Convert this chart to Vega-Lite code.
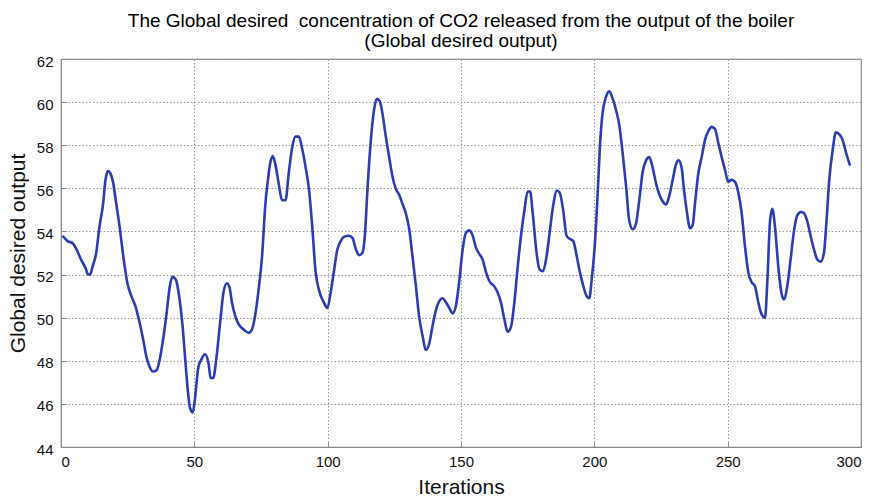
{
  "$schema": "https://vega.github.io/schema/vega-lite/v6.json",
  "autosize": "none",
  "width": 800,
  "height": 388,
  "padding": {"left": 61, "top": 59, "right": 19, "bottom": 56},
  "background": "white",
  "title": {
    "text": ["The Global desired \u00a0concentration of CO2 released from the output of the boiler", "(Global desired output)"],
    "font": "Liberation Sans",
    "fontSize": 19,
    "fontWeight": "normal",
    "color": "black",
    "anchor": "middle",
    "lineHeight": 20,
    "offset": 3
  },
  "config": {
    "view": {"stroke": "#888888", "strokeWidth": 1.2},
    "axis": {
      "labelFont": "Liberation Sans",
      "titleFont": "Liberation Sans",
      "labelFontSize": 15,
      "titleFontSize": 21,
      "titleFontWeight": "normal",
      "labelColor": "#111111",
      "titleColor": "#111111",
      "gridColor": "#9a9a9a",
      "gridDash": [1.5, 2],
      "gridWidth": 1,
      "gridOpacity": 1,
      "domainColor": "#888888",
      "tickColor": "#888888",
      "tickSize": -5
    }
  },
  "data": {
    "values": [
      {"it": 0.6, "v": 53.8}, {"it": 2.5, "v": 53.55}, {"it": 4.4, "v": 53.45}, {"it": 5.7, "v": 53.2},
      {"it": 7.5, "v": 52.7}, {"it": 9.2, "v": 52.3}, {"it": 10.2, "v": 52.0}, {"it": 10.9, "v": 52.0},
      {"it": 11.9, "v": 52.4}, {"it": 13.2, "v": 53.0}, {"it": 14.4, "v": 54.2}, {"it": 15.7, "v": 55.2},
      {"it": 16.7, "v": 56.4}, {"it": 17.6, "v": 56.8}, {"it": 18.5, "v": 56.7}, {"it": 19.5, "v": 56.3},
      {"it": 20.7, "v": 55.3}, {"it": 22.0, "v": 54.2}, {"it": 23.2, "v": 53.0}, {"it": 24.9, "v": 51.6},
      {"it": 26.4, "v": 51.0}, {"it": 28.0, "v": 50.5}, {"it": 29.5, "v": 49.75}, {"it": 30.8, "v": 49.0},
      {"it": 32.0, "v": 48.2}, {"it": 33.3, "v": 47.7}, {"it": 34.5, "v": 47.5}, {"it": 35.8, "v": 47.55},
      {"it": 37.0, "v": 48.05}, {"it": 38.3, "v": 49.0}, {"it": 39.6, "v": 50.2}, {"it": 40.8, "v": 51.45},
      {"it": 41.8, "v": 51.9}, {"it": 43.1, "v": 51.75}, {"it": 44.3, "v": 51.0}, {"it": 45.6, "v": 49.6},
      {"it": 46.6, "v": 48.05}, {"it": 47.5, "v": 46.7}, {"it": 48.4, "v": 45.8}, {"it": 49.4, "v": 45.6},
      {"it": 50.2, "v": 46.2}, {"it": 51.5, "v": 47.7}, {"it": 52.8, "v": 48.1}, {"it": 54.0, "v": 48.3},
      {"it": 55.3, "v": 47.9}, {"it": 56.1, "v": 47.2}, {"it": 57.1, "v": 47.2}, {"it": 58.2, "v": 48.05},
      {"it": 59.7, "v": 49.8}, {"it": 60.9, "v": 51.15}, {"it": 62.2, "v": 51.6}, {"it": 63.2, "v": 51.4},
      {"it": 64.1, "v": 50.7}, {"it": 65.3, "v": 50.1}, {"it": 66.6, "v": 49.7}, {"it": 68.5, "v": 49.45},
      {"it": 70.3, "v": 49.3}, {"it": 71.6, "v": 49.45}, {"it": 72.8, "v": 50.1}, {"it": 74.1, "v": 51.3},
      {"it": 75.4, "v": 52.85}, {"it": 76.6, "v": 55.2}, {"it": 77.6, "v": 56.4}, {"it": 78.5, "v": 57.2},
      {"it": 79.4, "v": 57.5}, {"it": 80.4, "v": 57.1}, {"it": 81.6, "v": 56.25}, {"it": 82.9, "v": 55.45},
      {"it": 84.2, "v": 55.45}, {"it": 85.4, "v": 56.7}, {"it": 86.7, "v": 57.9}, {"it": 87.9, "v": 58.4},
      {"it": 89.2, "v": 58.4}, {"it": 90.5, "v": 57.8}, {"it": 91.7, "v": 57.0}, {"it": 93.0, "v": 55.95},
      {"it": 94.2, "v": 54.25}, {"it": 95.5, "v": 52.1}, {"it": 96.7, "v": 51.3}, {"it": 98.6, "v": 50.7},
      {"it": 99.9, "v": 50.45}, {"it": 101.1, "v": 51.15}, {"it": 102.4, "v": 52.2}, {"it": 103.6, "v": 53.15},
      {"it": 104.9, "v": 53.55}, {"it": 106.1, "v": 53.75}, {"it": 108.0, "v": 53.8}, {"it": 109.3, "v": 53.7},
      {"it": 110.5, "v": 53.2}, {"it": 111.8, "v": 52.9}, {"it": 113.0, "v": 53.0}, {"it": 114.0, "v": 53.9},
      {"it": 114.9, "v": 55.9}, {"it": 116.2, "v": 58.25}, {"it": 117.4, "v": 59.65}, {"it": 118.4, "v": 60.15},
      {"it": 119.5, "v": 60.05}, {"it": 120.5, "v": 59.5}, {"it": 121.8, "v": 58.4}, {"it": 123.0, "v": 57.5},
      {"it": 124.3, "v": 56.55}, {"it": 125.5, "v": 56.0}, {"it": 126.8, "v": 55.7}, {"it": 128.0, "v": 55.3},
      {"it": 129.3, "v": 54.85}, {"it": 130.6, "v": 54.1}, {"it": 131.8, "v": 52.85}, {"it": 133.1, "v": 51.45},
      {"it": 134.3, "v": 50.05}, {"it": 135.6, "v": 49.15}, {"it": 136.8, "v": 48.5}, {"it": 138.1, "v": 48.8},
      {"it": 139.3, "v": 49.6}, {"it": 140.6, "v": 50.35}, {"it": 141.8, "v": 50.75}, {"it": 143.1, "v": 50.9},
      {"it": 144.4, "v": 50.7}, {"it": 145.6, "v": 50.45}, {"it": 146.9, "v": 50.2}, {"it": 148.1, "v": 50.55},
      {"it": 149.4, "v": 51.75}, {"it": 150.6, "v": 53.15}, {"it": 151.9, "v": 53.95}, {"it": 153.1, "v": 54.05},
      {"it": 154.4, "v": 53.8}, {"it": 155.6, "v": 53.25}, {"it": 156.9, "v": 52.95}, {"it": 158.1, "v": 52.7},
      {"it": 159.4, "v": 52.1}, {"it": 160.6, "v": 51.7}, {"it": 162.5, "v": 51.45}, {"it": 163.8, "v": 51.15},
      {"it": 165.0, "v": 50.7}, {"it": 166.3, "v": 49.9}, {"it": 167.5, "v": 49.35}, {"it": 168.8, "v": 49.6},
      {"it": 170.0, "v": 50.7}, {"it": 171.3, "v": 52.4}, {"it": 172.5, "v": 53.8}, {"it": 173.8, "v": 55.0},
      {"it": 175.0, "v": 55.85}, {"it": 175.9, "v": 55.85}, {"it": 176.9, "v": 54.85}, {"it": 178.2, "v": 53.15},
      {"it": 179.4, "v": 52.25}, {"it": 180.7, "v": 52.15}, {"it": 181.9, "v": 52.7}, {"it": 183.2, "v": 53.9},
      {"it": 184.5, "v": 55.15}, {"it": 186.0, "v": 55.9}, {"it": 187.0, "v": 55.8}, {"it": 188.3, "v": 55.0},
      {"it": 189.6, "v": 53.8}, {"it": 190.9, "v": 53.65}, {"it": 192.1, "v": 53.55}, {"it": 193.4, "v": 52.85},
      {"it": 194.6, "v": 52.1}, {"it": 195.9, "v": 51.45}, {"it": 197.1, "v": 51.0}, {"it": 198.1, "v": 50.9},
      {"it": 199.0, "v": 51.75}, {"it": 200.3, "v": 53.6}, {"it": 201.5, "v": 56.4}, {"it": 202.1, "v": 57.95},
      {"it": 203.1, "v": 59.5}, {"it": 204.4, "v": 60.25}, {"it": 205.6, "v": 60.5}, {"it": 206.9, "v": 60.15},
      {"it": 208.1, "v": 59.65}, {"it": 209.4, "v": 58.9}, {"it": 210.6, "v": 57.65}, {"it": 211.9, "v": 56.1},
      {"it": 213.1, "v": 54.5}, {"it": 214.4, "v": 54.1}, {"it": 215.6, "v": 54.35}, {"it": 216.9, "v": 55.5},
      {"it": 218.1, "v": 56.75}, {"it": 219.4, "v": 57.3}, {"it": 220.6, "v": 57.45}, {"it": 221.9, "v": 56.95},
      {"it": 223.1, "v": 56.25}, {"it": 224.4, "v": 55.7}, {"it": 225.6, "v": 55.4}, {"it": 226.9, "v": 55.25},
      {"it": 228.1, "v": 55.65}, {"it": 229.4, "v": 56.4}, {"it": 230.6, "v": 57.1}, {"it": 231.6, "v": 57.3},
      {"it": 232.75, "v": 56.95}, {"it": 233.6, "v": 55.95}, {"it": 234.6, "v": 55.0}, {"it": 235.9, "v": 54.15},
      {"it": 236.9, "v": 54.3}, {"it": 237.75, "v": 55.3}, {"it": 239.0, "v": 56.7}, {"it": 240.25, "v": 57.45},
      {"it": 241.5, "v": 58.25}, {"it": 242.75, "v": 58.65}, {"it": 244.0, "v": 58.85}, {"it": 245.25, "v": 58.75},
      {"it": 246.5, "v": 58.1}, {"it": 247.75, "v": 57.45}, {"it": 249.0, "v": 56.85}, {"it": 250.25, "v": 56.3},
      {"it": 251.5, "v": 56.4}, {"it": 252.75, "v": 56.3}, {"it": 254.0, "v": 55.8}, {"it": 255.25, "v": 54.85},
      {"it": 256.5, "v": 53.3}, {"it": 257.75, "v": 52.1}, {"it": 259.0, "v": 51.65}, {"it": 260.25, "v": 51.45},
      {"it": 261.5, "v": 50.7}, {"it": 262.75, "v": 50.15}, {"it": 264.0, "v": 50.0}, {"it": 264.9, "v": 51.75},
      {"it": 265.9, "v": 54.5}, {"it": 266.75, "v": 55.05}, {"it": 267.75, "v": 54.2}, {"it": 269.0, "v": 52.35},
      {"it": 270.25, "v": 51.1}, {"it": 271.1, "v": 50.85}, {"it": 272.4, "v": 51.5}, {"it": 273.6, "v": 52.7},
      {"it": 274.9, "v": 54.05}, {"it": 276.1, "v": 54.75}, {"it": 277.4, "v": 54.9}, {"it": 278.6, "v": 54.85},
      {"it": 279.9, "v": 54.45}, {"it": 281.1, "v": 53.8}, {"it": 282.4, "v": 53.15}, {"it": 283.6, "v": 52.7},
      {"it": 284.9, "v": 52.6}, {"it": 286.1, "v": 53.0}, {"it": 287.1, "v": 54.55}, {"it": 288.1, "v": 56.4},
      {"it": 289.4, "v": 57.8}, {"it": 290.6, "v": 58.6}, {"it": 291.9, "v": 58.5}, {"it": 293.1, "v": 58.25},
      {"it": 294.4, "v": 57.65}, {"it": 295.9, "v": 57.05}
    ]
  },
  "mark": {"type": "line", "color": "#2a3db3", "strokeWidth": 2.6, "interpolate": "monotone"},
  "encoding": {
    "x": {
      "field": "it", "type": "quantitative",
      "scale": {"domain": [0, 300], "nice": false},
      "axis": {"values": [0, 50, 100, 150, 200, 250, 300], "title": "Iterations", "labelPadding": 12, "titlePadding": 7}
    },
    "y": {
      "field": "v", "type": "quantitative",
      "scale": {"domain": [44, 62], "nice": false, "zero": false},
      "axis": {"values": [44, 46, 48, 50, 52, 54, 56, 58, 60, 62], "title": "Global desired output", "labelPadding": 13, "labelOffset": 2, "titlePadding": 8}
    }
  }
}
